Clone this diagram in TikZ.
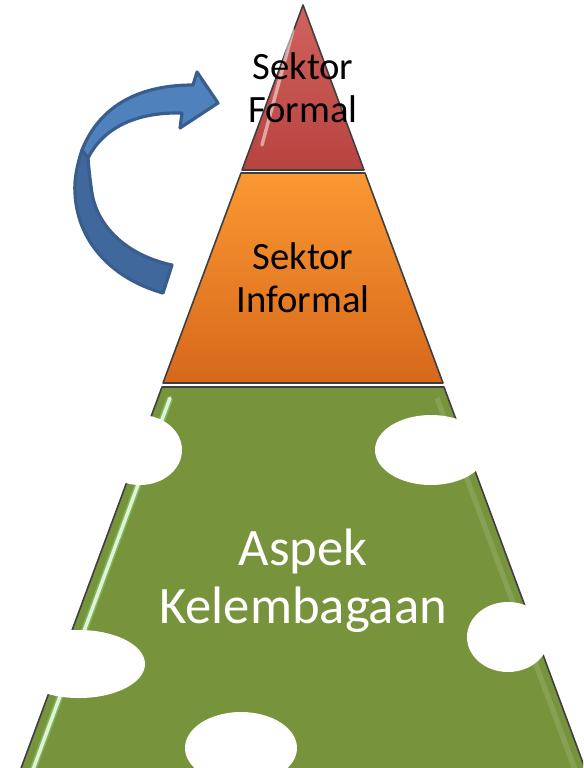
\documentclass[tikz,border=0pt]{standalone}
\usepackage{fontspec}
\setmainfont{Carlito}
\usetikzlibrary{shapes.geometric}
\definecolor{outl}{HTML}{3F3F3F}
\definecolor{redtop}{HTML}{D0625E}
\definecolor{redbot}{HTML}{B8433F}
\definecolor{orgtop}{HTML}{FB9832}
\definecolor{orgbot}{HTML}{D6681B}
\definecolor{grn}{HTML}{77933C}
\definecolor{blueL}{HTML}{4F81BD}
\definecolor{blueD}{HTML}{41689C}
\definecolor{blueO}{HTML}{395E8D}
\tikzset{
  tier/.style={draw=outl, line width=1.2pt, line join=round},
  blob/.style={fill=white, draw=none},
  gloss/.style={white, line width=2.6pt, line cap=round, opacity=0.8},
  darklabel/.style={text=black, font=\fontsize{29}{32}\selectfont, align=center},
  lightlabel/.style={text=white, font=\fontsize{39.5}{43.5}\selectfont, align=center},
  arrowpart/.style={draw=blueO, line width=2.4pt, line join=round}
}
\begin{document}
\begin{tikzpicture}[x=0.75pt,y=-0.75pt]
\useasboundingbox (0,0) rectangle (583,768);
\begin{scope}
\clip (0,0) rectangle (583,768);
% green base tier
\path[tier, fill=grn] (162,387) -- (444,387) -- (593,790) -- (13,790) -- cycle;
\draw[green!50!white, line width=5pt, opacity=0.35] (170,398) -- (31,775);
\draw[gloss] (170,398) -- (31,775);
\draw[white, line width=4pt, opacity=0.12] (437,398) -- (577,775);
% orange middle tier
\path[tier, top color=orgtop, bottom color=orgbot] (241,173) -- (365,173) -- (443,383) -- (163,383) -- cycle;
% red top tier
\path[tier, top color=redtop, bottom color=redbot] (303,5) -- (364,170) -- (242,170) -- cycle;
\draw[gloss, opacity=0.5] (293,30) -- (262,145);
% white ellipses
\fill[blob] (140,450) ellipse [x radius=42, y radius=35];
\fill[blob] (431,450) ellipse [x radius=56, y radius=35];
\fill[blob] (79,664) ellipse [x radius=66, y radius=34];
\fill[blob] (508,637) ellipse [x radius=41, y radius=35];
\fill[blob] (241,748) ellipse [x radius=56, y radius=36];
\end{scope}
% curved arrow: lower (back) part
\path[arrowpart, fill=blueD] (82,150) .. controls (77,165) and (74,180) .. (75,193)
  .. controls (77,240) and (110,278) .. (163,293) -- (172,265)
  .. controls (125,255) and (97,225) .. (92,193)
  .. controls (90,180) and (89,170) .. (88,158) -- cycle;
% curved arrow: upper (front) part with head
\path[arrowpart, fill=blueL] (82,150) .. controls (100,105) and (140,85) .. (193,85)
  -- (197,72) -- (218,103) -- (180,128) -- (182,113)
  .. controls (140,112) and (105,125) .. (88,158) -- cycle;
% labels
\node[darklabel] (formal) at (303,88) {Sektor\\Formal};
\node[darklabel] (informal) at (303,278) {Sektor\\Informal};
\node[lightlabel] (aspek) at (303,581) {Aspek\\Kelembagaan};
\end{tikzpicture}
\end{document}
